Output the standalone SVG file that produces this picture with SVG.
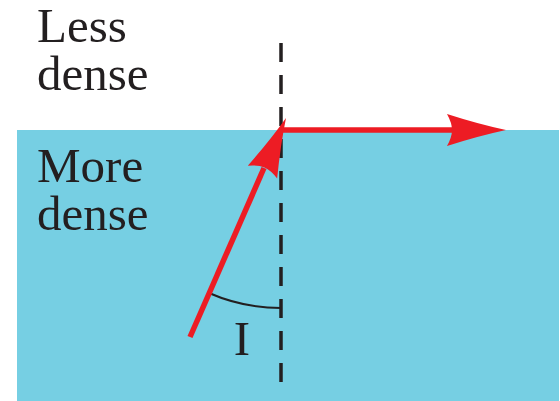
<svg xmlns="http://www.w3.org/2000/svg" width="560" height="401" viewBox="0 0 560 401">
<style>
.lbl{font-family:"Liberation Serif","Times New Roman",serif;font-size:49px;fill:#231f20}
.ray{stroke:#ed1c24;stroke-width:5.5;fill:none}
.head{fill:#ed1c24}
</style>
<defs>
<path id="ah" d="M0,0 Q-28,-6 -59,-16 Q-54,-7 -54,0 Q-54,7 -59,16 Q-28,6 0,0 Z"/>
</defs>
<rect width="560" height="401" fill="#ffffff"/>
<g id="dense-medium"><rect x="17" y="130" width="542" height="271" fill="#76cfe3"/></g>
<g id="labels">
<text class="lbl" x="37" y="42">Less</text>
<text class="lbl" x="37" y="90">dense</text>
<text class="lbl" x="37" y="182">More</text>
<text class="lbl" x="37" y="230">dense</text>
<text class="lbl" x="242" y="355" text-anchor="middle">I</text>
</g>
<g id="normal"><line x1="281" y1="43" x2="281" y2="384" stroke="#231f20" stroke-width="3.5" stroke-dasharray="19 13"/></g>
<g id="angle"><path d="M209,293 A180,180 0 0 0 281,308" fill="none" stroke="#231f20" stroke-width="2"/></g>
<g id="connectors">
<line class="ray" x1="190" y1="337" x2="264" y2="168"/>
<use href="#ah" class="head" transform="translate(286,118) rotate(-66.5)"/>
<line class="ray" x1="280" y1="130" x2="456" y2="130"/>
<use href="#ah" class="head" transform="translate(506,130)"/>
</g>
</svg>
